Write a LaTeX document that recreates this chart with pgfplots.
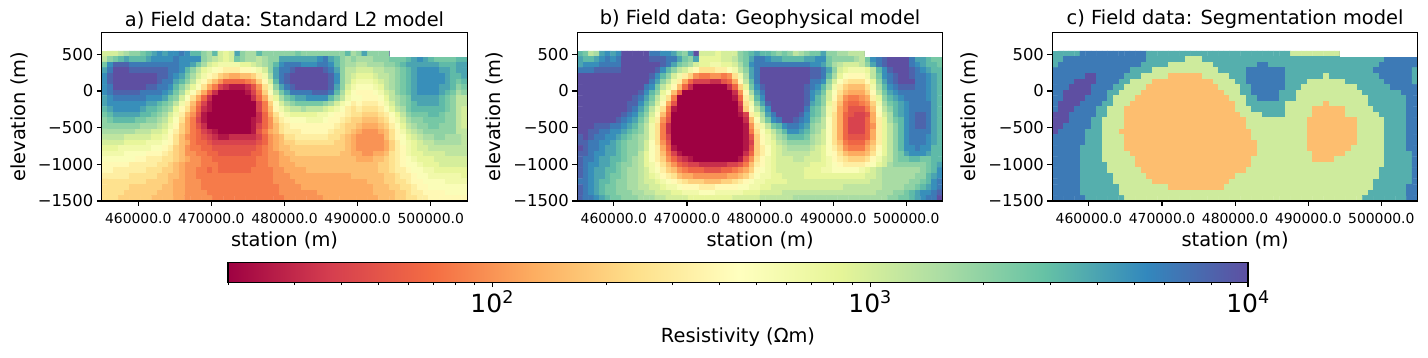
\documentclass[border=0pt]{standalone}
\usepackage{fontspec}
\setmainfont{DejaVu Sans}
\usepackage{pgfplots}
\pgfplotsset{compat=1.18}
\pgfplotsset{
  colormap={Spectral}{rgb255=(158,1,66) rgb255=(213,62,79) rgb255=(244,109,67) rgb255=(253,174,97) rgb255=(254,224,139) rgb255=(255,255,191) rgb255=(230,245,152) rgb255=(171,221,164) rgb255=(102,194,165) rgb255=(50,136,189) rgb255=(94,79,162)},
  panel/.style={
    anchor=south west, scale only axis, width=365.6pt, height=168.7pt,
    xmin=455000, xmax=505000, ymin=-1500, ymax=800,
    axis on top, colormap name=Spectral, point meta min=13.01, point meta max=40,
    xtick={460000,470000,480000,490000,500000},
    xticklabels={460000.0,470000.0,480000.0,490000.0,500000.0},
    ytick={-1500,-1000,-500,0,500},
    yticklabels={−1500,−1000,−500,0,500},
    tick align=outside, xtick pos=bottom, ytick pos=left,
    axis line style={line width=1.1pt},
    major tick length=4.9pt,
    tick style={black,line width=1.1pt},
    xticklabel style={font=\fontsize{13.9}{16}\selectfont, yshift=-4pt},
    yticklabel style={font=\fontsize{16.4}{19}\selectfont},
    scaled x ticks=false,
    xlabel={station (m)}, ylabel={elevation (m)},
    label style={font=\fontsize{19.4}{23}\selectfont},
    xlabel style={at={(axis description cs:0.5,-0.162)},anchor=north},
    ylabel style={at={(axis description cs:-0.226,0.5)},anchor=center,rotate=0},
    title style={font=\fontsize{19.4}{23}\selectfont,at={(axis description cs:0.5,1)},anchor=south,yshift=-6pt},
  }
}
% --- grid reader: values are 10*log10(resistivity), one line per model row, top to bottom
\newcount\Rx \newcount\Ry
\def\Rall{}\def\Rcur{}\def\Rlast{0}
\def\Radd#1{\ifnum\Rx<66 \edef\Rcur{\Rcur(\the\numexpr455379+\Rx*757\relax,\the\numexpr507-\Ry*757/10\relax)[#1]}\advance\Rx by 1 \def\Rlast{#1}\fi}
\def\Rflush{\ifnum\Rx<66 \Radd{\Rlast}\expandafter\Rflush\else\xdef\Rall{\Rall\Rcur}\def\Rcur{}\Rx=0 \advance\Ry by 1 \fi}
\def\Rnext#1 {\ifnum#1<0 \let\Rgo\relax\else\Radd{#1}\let\Rgo\Rnext\fi\Rgo}
\def\Rrow#1{\Rx=0 \def\Rcur{}\Rnext#1 -1 \Rflush}
\def\Cfill#1#2{\ifnum\Rx>#1 \else\Radd{#2}\Cfill{#1}{#2}\fi}
\def\Cnext#1 #2 {\ifnum#1<0 \let\Rgo\relax\else\Cfill{#1}{#2}\let\Rgo\Cnext\fi\Rgo}
\def\Crow#1{\Rx=0 \def\Rcur{}\Cnext#1 -1 -1 \Rflush}
\def\plotgrid#1{\edef\tmp{\noexpand\addplot[matrix plot*,mesh/cols=66,point meta=explicit,forget plot] coordinates {#1};}\tmp}

% panel a
\Ry=0 \def\Rall{}
\Rrow{30 30 30 31 32 33 33 34 35 36 37 36 37 37 38 37 35 35 33 32 35 30 29 30 36 33 32 32 35 33 33 33 33 33 33 34 33 33 33 33 33 33 33 33 35 32 33 36 33 33 33 33 40 40 40 40 40 40 40 40 40 40 40 40 40 40}
\Rrow{31 33 34 35 36 35 35 35 36 37 37 37 37 38 37 37 37 37 33 32 31 30 29 30 34 33 32 32 31 32 33 33 36 36 36 36 36 36 36 37 38 36 35 33 32 33 32 32 32 33 33 33 34 34 34 35 36 37 36 35 34 34 34 34 35 35}
\Rrow{34 37 39 39 39 38 38 38 38 38 38 38 38 38 37 37 36 34 32 30 29 28 28 28 28 29 29 30 31 32 33 35 37 38 38 38 37 37 37 38 38 37 35 33 32 32 31 31 32 32 32 33 33 34 35 36 36 36 36 36 36 35 35 35 36 36}
\Rrow{36 38 40 40 40 39 39 39 39 39 39 39 38 38 37 35 33 31 29 28 27 26 25 25 25 26 26 27 28 30 33 36 38 38 39 40 40 40 40 40 39 38 36 33 31 31 30 30 30 31 31 32 32 33 34 35 36 37 37 37 37 36 36 35 36 36}
\Rrow{37 39 40 40 40 40 40 40 40 40 39 39 38 37 36 34 32 30 28 26 25 23 22 21 21 22 22 23 25 28 32 36 38 39 40 40 40 40 40 40 40 39 37 33 31 30 29 29 29 30 31 31 32 33 34 35 36 37 37 37 37 37 36 35 35 36}
\Rrow{37 39 40 40 40 40 40 40 40 40 39 38 38 36 35 33 31 28 26 24 22 20 18 18 18 18 19 20 23 26 30 35 38 39 40 40 40 40 40 40 40 39 37 33 31 29 28 28 28 29 30 31 32 33 34 35 36 37 37 37 37 37 36 35 34 35}
\Rrow{37 38 40 40 40 40 40 40 39 39 38 38 37 35 33 31 29 27 24 21 19 16 15 14 14 14 15 17 20 24 28 33 36 38 39 40 40 40 40 40 40 39 36 33 30 28 27 27 27 28 29 31 32 33 34 35 36 37 37 37 37 36 36 35 33 34}
\Rrow{37 38 39 39 39 39 39 38 38 38 38 37 36 34 32 29 27 24 21 18 15 13 13 13 13 13 14 16 19 23 27 31 34 36 38 38 38 38 39 39 39 38 35 32 29 27 26 26 26 27 28 30 31 33 34 35 36 37 37 37 37 36 35 34 32 33}
\Rrow{36 37 38 38 38 38 38 38 37 37 37 36 34 33 30 27 24 21 18 15 13 13 13 13 13 13 13 15 18 21 25 29 32 34 35 36 36 37 37 37 37 35 33 31 28 27 27 26 26 26 27 29 31 32 33 34 36 36 36 36 36 35 34 33 31 31}
\Rrow{36 37 37 37 37 37 37 37 36 36 35 34 33 31 28 25 22 19 16 14 13 13 13 13 13 13 13 13 16 19 23 27 30 32 33 34 34 34 34 34 33 32 30 28 27 25 26 25 25 25 26 28 30 32 33 34 35 36 36 36 36 35 34 33 31 31}
\Rrow{35 36 37 37 37 37 37 36 35 35 34 33 32 29 26 24 21 18 15 14 13 13 13 13 13 13 13 13 16 19 22 26 28 30 31 31 32 31 31 31 30 29 28 27 25 24 25 24 24 24 25 27 29 31 32 34 35 35 35 35 35 35 34 33 31 30}
\Rrow{34 35 36 36 36 36 36 35 35 34 33 32 30 28 25 22 20 17 14 13 13 13 13 13 13 13 13 13 15 18 21 24 26 28 29 29 29 29 29 28 28 27 26 26 25 24 24 23 23 23 24 25 27 29 31 33 34 34 34 35 35 34 33 33 31 30}
\Rrow{33 34 35 35 35 35 34 34 33 33 32 31 29 27 24 21 19 16 14 13 13 13 13 13 13 13 13 14 15 18 20 23 25 26 27 27 27 28 28 28 27 26 26 25 24 23 23 22 22 22 23 24 26 28 30 32 33 33 34 34 34 34 33 33 31 30}
\Rrow{33 33 33 33 33 33 33 32 32 32 31 30 28 26 23 21 19 17 15 13 13 13 13 13 13 13 13 14 16 18 20 22 24 25 26 26 26 26 26 26 26 26 25 24 23 23 22 21 21 21 22 23 25 27 29 31 32 33 33 34 34 33 33 33 31 30}
\Rrow{32 32 32 32 32 32 31 31 31 30 30 29 27 25 23 21 19 18 16 15 14 13 13 13 13 13 13 14 17 19 21 22 24 25 25 25 26 26 26 26 26 25 24 24 23 22 21 20 20 20 21 22 24 26 28 30 31 32 33 33 33 33 33 33 31 31}
\Rrow{31 31 31 31 30 30 30 30 30 29 29 28 26 24 22 20 19 18 17 16 15 14 14 15 15 15 15 15 16 18 20 21 22 24 24 25 25 25 25 25 25 24 24 23 22 21 20 20 20 20 20 22 24 26 27 29 30 31 32 32 33 33 32 32 32 31}
\Rrow{30 30 30 30 29 29 29 29 28 28 28 27 26 24 22 21 19 18 18 17 16 16 16 16 16 16 16 16 17 18 20 21 22 23 23 24 24 24 24 24 24 24 23 23 22 21 20 20 20 20 20 21 23 25 27 28 29 30 31 31 32 32 32 32 32 31}
\Rrow{29 29 29 28 28 28 28 28 28 27 27 26 25 23 22 20 19 19 18 18 17 17 17 17 17 17 17 17 18 19 20 21 22 22 23 23 23 23 23 23 23 23 23 23 22 21 20 20 20 20 20 21 23 25 26 28 29 30 30 31 31 31 31 31 31 31}
\Rrow{28 28 28 28 27 27 27 27 26 26 26 25 24 23 22 20 20 19 19 18 18 17 17 17 17 17 17 18 18 19 20 20 21 22 22 23 23 23 23 23 23 23 23 22 22 21 21 20 20 21 21 22 24 25 26 28 29 29 30 30 30 30 31 31 31 31}
\Rrow{27 27 27 27 27 27 26 26 25 25 25 24 24 23 22 21 20 20 19 19 18 18 18 18 18 18 18 18 19 19 20 20 21 21 22 22 22 22 22 22 22 22 22 22 22 22 21 21 21 22 22 23 24 25 26 27 28 29 29 29 30 30 30 30 30 30}
\Rrow{26 26 26 26 26 25 25 25 25 25 24 24 23 22 21 20 20 20 19 19 19 18 18 18 18 18 18 18 19 19 20 20 21 21 21 22 22 22 22 22 22 22 22 22 22 22 22 22 22 22 23 23 24 25 26 27 27 28 29 29 29 30 30 30 30 30}
\Rrow{26 26 25 25 25 25 25 25 24 24 24 23 23 22 21 20 20 19 19 18 19 18 18 18 18 18 18 19 19 19 19 20 20 21 21 21 21 22 22 22 22 22 22 22 22 22 22 22 22 22 23 23 24 25 25 26 27 27 28 28 29 29 29 29 29 29}
\Rrow{25 25 25 25 25 24 24 24 24 24 23 23 22 22 21 20 20 19 19 19 19 19 19 19 19 19 19 19 19 19 19 20 20 20 21 21 21 21 21 21 21 21 21 21 21 22 22 22 22 22 22 23 23 24 25 25 26 27 27 28 28 28 28 28 28 29}
\Rrow{24 24 24 24 24 24 24 24 23 23 23 23 22 21 21 20 20 20 19 19 19 19 19 19 19 19 19 19 19 19 19 20 20 20 20 21 21 21 21 21 21 21 21 21 21 21 21 21 22 22 22 23 23 24 24 25 26 26 27 27 27 27 28 28 28 28}
\Rrow{24 24 24 24 24 23 23 23 23 23 23 22 22 21 21 20 20 20 19 19 19 19 19 19 19 19 19 19 19 19 19 19 20 20 20 20 21 21 21 21 21 21 21 21 21 21 21 21 21 22 22 22 23 23 24 24 25 26 26 27 27 27 27 27 27 27}
\Rrow{24 24 24 24 23 23 23 23 23 23 22 22 22 21 21 20 20 20 20 19 19 19 19 19 19 19 19 19 19 19 19 19 20 20 20 20 20 20 20 21 21 21 21 21 21 21 21 21 21 22 22 22 22 23 23 24 25 25 26 26 26 26 27 27 27 27}
\Rrow{24 24 24 23 23 23 23 23 23 22 22 22 22 21 21 20 20 20 20 20 19 19 19 19 19 19 19 19 19 19 19 19 19 20 20 20 20 20 20 20 21 21 21 21 21 21 21 21 21 21 22 22 22 23 23 24 24 25 25 26 26 26 26 26 26 26}
\global\let\Acoords\Rall

% panel b
\Ry=0 \def\Rall{}
\Rrow{35 34 31 32 36 37 36 37 40 40 40 40 40 38 38 37 37 36 34 33 36 40 30 30 30 29 30 30 30 33 34 35 36 35 35 34 33 34 33 31 32 33 34 34 36 33 33 32 32 31 31 31 40 40 40 40 40 40 40 40 40 40 40 40 40 40}
\Rrow{36 35 35 36 37 38 37 38 40 40 40 40 40 39 39 39 38 38 36 34 33 36 29 29 29 29 30 30 31 33 34 36 38 38 37 36 36 35 35 35 35 36 36 37 37 34 33 33 33 33 32 31 34 37 38 39 40 40 40 40 38 36 36 35 34 34}
\Rrow{36 37 37 37 38 38 38 38 40 40 40 40 40 40 40 39 38 36 34 33 32 30 29 29 28 28 29 29 30 32 34 37 38 38 38 38 38 38 38 38 38 38 37 37 36 34 32 31 30 30 30 31 33 36 38 39 40 40 40 40 38 37 36 35 35 34}
\Rrow{38 38 38 39 39 39 39 39 40 40 40 40 40 40 39 37 35 33 31 30 28 26 24 24 24 25 25 27 28 31 33 36 38 40 40 40 40 40 40 40 40 40 39 39 38 36 33 30 29 28 28 28 29 31 35 37 39 40 40 40 39 38 37 36 35 35}
\Rrow{40 40 40 40 40 40 40 40 40 40 40 40 40 39 37 35 33 30 28 25 23 20 19 19 20 20 19 20 24 28 32 36 38 40 40 40 40 40 40 40 40 40 39 39 38 35 32 29 27 26 26 26 28 31 34 37 38 39 40 40 39 38 38 37 36 35}
\Rrow{40 40 40 40 40 40 40 40 40 40 40 40 40 38 36 33 31 28 25 21 18 16 16 16 15 15 17 18 21 26 31 35 38 40 40 40 40 40 40 40 40 40 38 38 37 33 30 27 25 24 24 24 26 29 33 36 38 39 40 40 40 38 38 37 36 35}
\Rrow{40 40 40 40 40 40 40 40 40 40 40 40 38 37 34 31 29 26 22 18 15 13 13 13 13 13 13 15 18 23 29 34 37 39 40 40 40 40 40 40 40 39 38 37 35 32 28 25 23 22 22 22 24 28 32 35 37 38 39 39 39 38 38 37 36 35}
\Rrow{40 40 40 40 40 40 40 40 40 40 40 39 37 35 33 29 27 22 18 13 13 13 13 13 13 13 13 13 15 20 26 32 36 38 40 40 40 40 40 40 40 39 37 36 34 30 27 24 22 21 21 21 23 26 31 34 36 37 38 38 38 38 38 37 36 35}
\Rrow{40 40 40 40 40 40 40 40 40 40 39 38 36 34 31 28 24 19 13 13 13 13 13 13 13 13 13 13 14 18 25 30 35 37 40 40 40 40 40 40 40 39 37 35 33 30 26 23 20 19 19 20 21 25 29 33 35 36 37 38 38 38 38 37 36 35}
\Rrow{40 40 40 40 40 40 40 40 40 39 39 37 35 33 30 26 21 17 13 13 13 13 13 13 13 13 13 13 13 16 24 28 33 36 39 40 40 40 40 40 40 39 36 35 33 29 25 22 19 18 18 19 20 23 28 32 34 35 36 37 38 38 38 38 36 35}
\Rrow{40 40 40 40 40 40 40 40 40 39 38 36 34 31 28 24 19 14 13 13 13 13 13 13 13 13 13 13 13 15 23 27 31 34 37 40 40 40 40 40 40 38 35 34 32 28 25 21 19 17 17 17 19 22 27 31 33 35 36 37 38 38 38 38 36 35}
\Rrow{40 40 40 40 40 40 40 40 39 38 37 35 33 30 26 22 18 13 13 13 13 13 13 13 13 13 13 13 13 14 16 25 29 32 36 38 40 40 40 40 39 37 35 34 32 28 24 21 18 17 16 16 17 21 26 30 32 35 36 37 38 39 39 38 36 35}
\Rrow{40 40 40 40 40 40 40 39 38 37 36 34 32 29 25 20 17 13 13 13 13 13 13 13 13 13 13 13 13 13 15 22 27 31 34 37 38 40 40 39 38 37 34 33 31 27 24 21 18 16 16 16 18 21 25 29 32 34 35 37 38 39 39 38 36 35}
\Rrow{40 40 40 39 39 39 38 38 37 36 35 33 31 28 24 19 15 13 13 13 13 13 13 13 13 13 13 13 13 13 14 20 25 28 31 34 35 37 38 38 37 36 33 32 31 27 24 21 18 16 16 16 18 20 25 29 31 33 35 37 38 39 39 38 36 35}
\Rrow{40 40 39 39 38 38 37 37 36 35 34 33 31 28 24 19 15 13 13 13 13 13 13 13 13 13 13 13 13 13 14 19 24 27 29 31 33 35 37 37 36 35 33 32 30 27 24 21 18 16 16 16 18 21 25 29 31 33 35 37 38 38 38 38 36 35}
\Rrow{39 40 39 38 38 37 37 36 35 34 33 32 31 28 24 19 16 13 13 13 13 13 13 13 13 13 13 13 13 13 14 17 23 26 28 30 32 33 35 35 35 34 32 31 30 27 24 21 18 17 17 17 18 21 25 29 31 33 35 37 38 38 38 37 36 35}
\Rrow{39 39 38 38 37 37 36 35 34 33 33 32 30 27 24 20 17 13 13 13 13 13 13 13 13 13 13 13 13 13 14 16 23 26 28 29 31 32 33 33 33 33 32 31 30 27 24 22 19 18 18 18 20 22 25 29 31 33 35 37 38 38 38 37 36 35}
\Rrow{40 39 38 38 37 36 36 35 34 33 33 32 30 27 25 21 18 14 13 13 13 13 13 13 13 13 13 13 13 13 14 17 23 25 27 29 30 31 32 32 32 32 31 30 29 27 25 23 20 19 19 19 21 23 26 29 31 33 35 37 37 38 37 37 35 35}
\Rrow{39 39 38 37 37 36 36 35 34 33 33 31 29 27 25 22 19 16 14 13 13 13 13 13 13 13 13 13 13 13 15 18 23 25 27 29 30 31 31 31 31 31 30 30 29 27 26 24 22 21 21 21 22 24 27 29 31 33 34 36 37 37 37 36 35 35}
\Rrow{39 38 38 37 36 36 35 35 34 33 32 31 29 27 25 23 20 18 16 15 14 13 13 13 13 13 13 13 13 14 17 20 24 26 28 29 30 30 30 31 31 30 30 30 29 28 26 25 24 23 23 23 24 26 28 30 31 33 34 34 35 35 34 34 35 35}
\Rrow{39 38 37 37 36 36 35 34 33 33 32 31 29 28 26 24 22 20 18 17 16 16 15 15 15 15 15 16 16 17 19 22 25 26 28 29 30 30 30 30 30 30 29 29 29 28 27 26 25 25 25 25 26 27 29 30 32 33 33 33 33 33 33 34 35 36}
\Rrow{39 38 37 36 36 35 35 34 33 32 32 31 30 28 27 25 23 22 20 19 18 18 18 17 17 17 18 18 19 20 21 23 26 27 28 29 30 30 30 30 30 29 29 29 28 28 27 27 27 27 27 28 29 30 31 32 32 32 32 32 32 32 33 34 35 37}
\Rrow{39 38 37 36 36 35 34 34 33 32 32 31 30 29 28 26 25 24 22 21 21 20 20 20 20 20 20 21 21 22 23 25 27 28 28 29 29 30 30 30 30 29 29 29 29 29 29 29 29 29 29 29 30 30 31 32 32 32 32 32 32 33 33 35 36 37}
\Rrow{38 38 37 36 35 35 34 33 33 32 32 31 30 30 29 28 27 26 25 24 23 23 23 22 22 22 23 23 24 25 26 27 28 28 29 29 29 29 30 30 30 30 30 30 30 30 30 30 30 30 30 30 30 31 31 32 32 32 32 32 33 33 34 35 37 38}
\Rrow{39 38 37 36 35 34 34 33 33 32 32 31 31 30 30 29 28 28 27 26 26 26 25 25 25 26 26 26 26 27 27 28 28 29 29 30 30 30 30 30 30 30 30 30 30 30 30 30 31 31 31 31 31 31 31 32 32 32 32 33 33 34 35 36 37 38}
\Rrow{39 38 37 36 35 34 34 33 33 33 32 32 31 31 30 30 30 29 29 28 28 28 27 27 27 28 28 28 28 28 29 29 29 30 30 30 30 31 31 31 31 31 31 31 31 31 31 31 31 31 31 31 31 31 32 32 32 33 33 34 35 36 37 37 38 39}
\Rrow{39 38 38 37 36 35 34 34 33 33 33 32 32 32 31 31 30 30 30 30 29 29 29 29 29 29 29 29 30 30 30 30 30 31 31 31 31 31 31 32 32 32 32 32 32 32 32 32 32 32 32 32 32 32 32 32 33 33 34 34 35 36 37 38 38 40}
\global\let\Bcoords\Rall

% panel c: each pair is "last column of the run, value"
\Ry=0 \def\Rall{}
\Crow{4 35.5 16 38 42 35.5 51 30.3 65 40}
\Crow{1 35.5 16 38 23 35.5 26 30.3 59 35.5 65 38}
\Crow{0 35.5 15 38 20 35.5 28 30.3 36 35.5 38 38 58 35.5 65 38}
\Crow{13 38 17 35.5 29 30.3 34 35.5 41 38 57 35.5 64 38 65 35.5}
\Crow{5 38 7 40 12 38 15 35.5 20 30.3 26 22 31 30.3 34 35.5 41 38 48 35.5 49 30.3 58 35.5 64 38 65 35.5}
\Crow{3 38 7 40 11 38 13 35.5 17 30.3 28 22 32 30.3 34 35.5 41 38 45 35.5 52 30.3 59 35.5 64 38 65 35.5}
\Crow{2 38 6 40 10 38 12 35.5 16 30.3 29 22 33 30.3 35 35.5 41 38 44 35.5 54 30.3 60 35.5 65 38}
\Crow{1 38 6 40 9 38 11 35.5 15 30.3 30 22 33 30.3 35 35.5 40 38 43 35.5 55 30.3 62 35.5 65 38}
\Crow{1 38 5 40 9 38 10 35.5 14 30.3 31 22 34 30.3 36 35.5 40 38 43 35.5 56 30.3 63 35.5 65 38}
\Crow{0 38 4 40 8 38 10 35.5 13 30.3 32 22 34 30.3 41 35.5 48 30.3 49 22 56 30.3 63 35.5 65 38}
\Crow{0 38 3 40 7 38 9 35.5 12 30.3 32 22 35 30.3 41 35.5 46 30.3 52 22 57 30.3 63 35.5 65 38}
\Crow{2 40 7 38 9 35.5 12 30.3 33 22 37 30.3 41 35.5 46 30.3 52 22 58 30.3 63 35.5 65 38}
\Crow{2 40 6 38 8 35.5 12 30.3 34 22 45 30.3 54 22 59 30.3 63 35.5 65 38}
\Crow{1 40 6 38 8 35.5 12 30.3 34 22 45 30.3 54 22 59 30.3 63 35.5 65 38}
\Crow{0 40 5 38 8 35.5 11 30.3 35 22 45 30.3 54 22 59 30.3 63 35.5 65 38}
\Crow{5 38 8 35.5 12 30.3 35 22 45 30.3 54 22 59 30.3 63 35.5 65 38}
\Crow{5 38 8 35.5 12 30.3 36 22 45 30.3 54 22 59 30.3 63 35.5 65 38}
\Crow{4 38 8 35.5 12 30.3 36 22 45 30.3 53 22 59 30.3 63 35.5 65 38}
\Crow{4 38 8 35.5 13 30.3 36 22 46 30.3 52 22 59 30.3 64 35.5 65 38}
\Crow{4 38 8 35.5 14 30.3 35 22 46 30.3 50 22 59 30.3 64 35.5 65 38}
\Crow{4 38 9 35.5 14 30.3 35 22 59 30.3 64 35.5 65 38}
\Crow{4 38 9 35.5 15 30.3 34 22 58 30.3 64 35.5 65 38}
\Crow{4 38 10 35.5 16 30.3 32 22 58 30.3 64 35.5 65 38}
\Crow{4 38 10 35.5 17 30.3 31 22 57 30.3 64 35.5 65 38}
\Crow{4 38 11 35.5 20 30.3 30 22 57 30.3 63 35.5 65 38}
\Crow{4 38 11 35.5 56 30.3 63 35.5 65 38}
\Crow{5 38 12 35.5 55 30.3 63 35.5 65 38}
\global\let\Ccoords\Rall

\def\topmask{\addplot[draw=none,fill=white,forget plot] coordinates {(494364,470)(505500,470)(505500,620)(494364,620)} --cycle;}

\begin{document}
\begin{tikzpicture}
\useasboundingbox (0,0) rectangle (1428pt,357pt);
\begin{axis}[panel, at={(101.7pt,156pt)}, title={a) Field data: Standard L2 model}]
\plotgrid{\Acoords}
\topmask
\end{axis}
\begin{axis}[panel, at={(577.3pt,156pt)}, title={b) Field data: Geophysical model}]
\plotgrid{\Bcoords}
\topmask
\end{axis}
\begin{axis}[panel, at={(1052.3pt,156pt)}, title={c) Field data: Segmentation model}]
\plotgrid{\Ccoords}
\topmask
\end{axis}
\begin{axis}[at={(228pt,74.7pt)}, anchor=south west, scale only axis, width=1020pt, height=20pt,
  xmode=log, log basis x=10, xmin=20, xmax=10000, ymin=0, ymax=1, ytick=\empty,
  axis on top, colormap name=Spectral, point meta min=1.30103, point meta max=4,
  xtick={100,1000,10000}, xticklabels={10\textsuperscript{2},10\textsuperscript{3},10\textsuperscript{4}},
  minor xtick={20,30,40,50,60,70,80,90,200,300,400,500,600,700,800,900,2000,3000,4000,5000,6000,7000,8000,9000},
  tick align=outside, xtick pos=bottom,
  axis line style={line width=1.1pt},
  major tick length=4.9pt, minor tick length=2.8pt,
  tick style={black,line width=1.1pt},
  minor tick style={black,line width=0.8pt},
  xticklabel style={font=\fontsize{25}{28}\selectfont},
  xlabel={Resistivity (Ωm)},
  label style={font=\fontsize{19.4}{23}\selectfont},
  xlabel style={at={(axis description cs:0.5,-2.1)},anchor=north},
]
\addplot[patch, patch type=rectangle, shader=interp, point meta=explicit, forget plot]
  coordinates {(20,0)[1.30103] (10000,0)[4] (10000,1)[4] (20,1)[1.30103]};
\end{axis}
\end{tikzpicture}
\end{document}
